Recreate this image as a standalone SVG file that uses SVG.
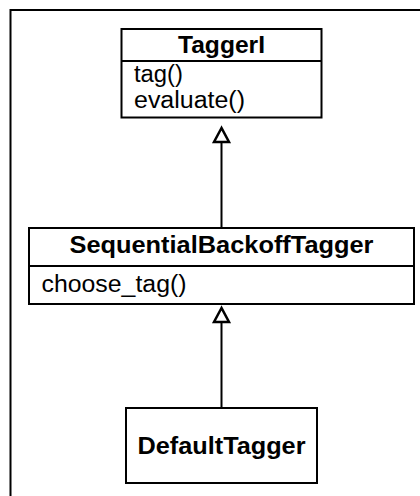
<svg xmlns="http://www.w3.org/2000/svg" width="420" height="496" viewBox="0 0 420 496">
  <style>
    .box { fill: #ffffff; stroke: #000000; stroke-width: 2; }
    .div { stroke: #000000; stroke-width: 2; }
    .title { font-family: "Liberation Sans", Arial, sans-serif; font-weight: bold; font-size: 24px; fill: #000000; text-anchor: middle; }
    .member { font-family: "Liberation Sans", Arial, sans-serif; font-size: 23px; fill: #000000; }
    .conn { stroke: #000000; stroke-width: 2; fill: none; }
    .head { fill: #ffffff; stroke: #000000; stroke-width: 2.5; stroke-linejoin: miter; }
  </style>
  <rect x="0" y="0" width="420" height="496" fill="#ffffff"/>
  <rect id="frame" x="10.5" y="10" width="430" height="500" fill="none" stroke="#000000" stroke-width="2"/>

  <g id="connectors">
    <line class="conn" x1="221.5" y1="142" x2="221.5" y2="228"/>
    <polygon class="head" points="221.5,128 214,142 229,142"/>
    <line class="conn" x1="221.5" y1="322" x2="221.5" y2="408"/>
    <polygon class="head" points="221.5,308 214,322 229,322"/>
  </g>

  <g id="TaggerI">
    <rect class="box" x="121.5" y="29" width="200" height="88.5"/>
    <line class="div" x1="121.5" y1="61" x2="321.5" y2="61"/>
    <text class="title" x="221.5" y="52.5" textLength="87" lengthAdjust="spacingAndGlyphs">TaggerI</text>
    <text class="member" x="134" y="82" textLength="49" lengthAdjust="spacingAndGlyphs">tag()</text>
    <text class="member" x="134" y="108" textLength="111" lengthAdjust="spacingAndGlyphs">evaluate()</text>
  </g>

  <g id="SequentialBackoffTagger">
    <rect class="box" x="29" y="228" width="385" height="76"/>
    <line class="div" x1="29" y1="266" x2="414" y2="266"/>
    <text class="title" x="221.5" y="253" textLength="304" lengthAdjust="spacingAndGlyphs">SequentialBackoffTagger</text>
    <text class="member" x="41.5" y="292" textLength="145" lengthAdjust="spacingAndGlyphs">choose_tag()</text>
  </g>

  <g id="DefaultTagger">
    <rect class="box" x="126" y="408" width="191" height="75"/>
    <text class="title" x="221.5" y="453.5" textLength="168" lengthAdjust="spacingAndGlyphs">DefaultTagger</text>
  </g>
</svg>
